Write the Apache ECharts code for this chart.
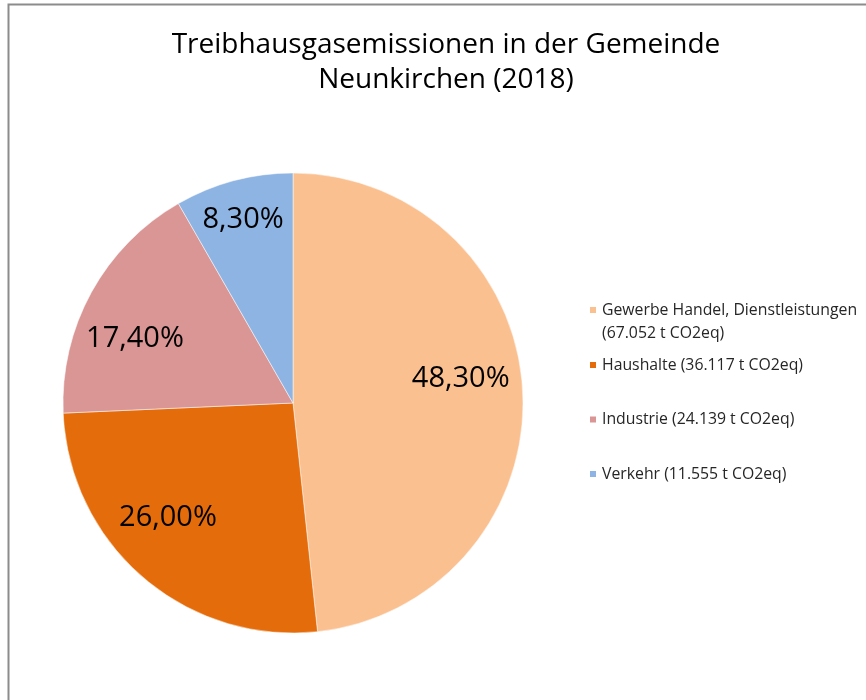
<!DOCTYPE html>
<html>
<head>
<meta charset="utf-8">
<script src="https://cdn.jsdelivr.net/npm/echarts@6/dist/echarts.min.js"></script>
<style>
  html, body { margin: 0; padding: 0; background: #fff; }
  #chart { width: 866px; height: 700px; }
</style>
</head>
<body>
<div id="chart"></div>
<script>
// Daten
var categories = [
  'Gewerbe Handel, Dienstleistungen\n(67.052 t CO2eq)',
  'Haushalte (36.117 t CO2eq)',
  'Industrie (24.139 t CO2eq)',
  'Verkehr (11.555 t CO2eq)'
];
var shares = [48.30, 26.00, 17.40, 8.30];
var colors = ['#FAC090', '#E46C0A', '#D99694', '#8EB4E3'];
// kleine Verschiebung der Beschriftungen (wie Excel "beste Anpassung")
var labelShift = [[-10, -15], [-9, -20], [-2, 21], [-4, -11]];

var fontFam = '"Open Sans", "Noto Sans", sans-serif';

var legendText = {
  fontFamily: fontFam,
  fontSize: 15.8,
  color: '#262626',
  lineHeight: 23
};

var chart = echarts.init(document.getElementById('chart'));
chart.setOption({
  backgroundColor: '#fff',
  animation: false,
  title: {
    text: 'Treibhausgasemissionen in der Gemeinde\nNeunkirchen (2018)',
    left: 441,
    top: 23,
    textAlign: 'center',
    textStyle: {
      fontFamily: fontFam,
      fontSize: 28,
      fontWeight: 'normal',
      color: '#000',
      lineHeight: 35
    }
  },
  legend: [
    {
      // erster Eintrag (zweizeilig), Symbol an der ersten Zeile
      orient: 'vertical',
      left: 588,
      top: 275.5,
      padding: 0,
      itemWidth: 8,
      itemHeight: 8,
      icon: 'rect',
      textStyle: legendText,
      formatter: function (name) { return '\n' + name; },
      data: categories.slice(0, 1)
    },
    {
      orient: 'vertical',
      left: 588,
      top: 353.5,
      padding: 0,
      itemWidth: 8,
      itemHeight: 8,
      itemGap: 31.5,
      icon: 'rect',
      textStyle: legendText,
      data: categories.slice(1)
    }
  ],
  graphic: [{
    type: 'rect',
    shape: { x: 8.5, y: 4.5, width: 1000, height: 1000 },
    style: { fill: 'none', stroke: '#8c8c8c', lineWidth: 2 },
    silent: true
  }],
  series: [
    {
      type: 'pie',
      center: [293, 403],
      radius: [0, 230],
      startAngle: 90,
      clockwise: true,
      label: { show: false },
      labelLine: { show: false },
      itemStyle: { borderColor: '#fff', borderWidth: 0.5 },
      data: categories.map(function (name, i) {
        return { name: name, value: shares[i], itemStyle: { color: colors[i] } };
      })
    },
    {
      // transparente Ebene nur für die Beschriftung
      type: 'pie',
      center: [293, 403],
      radius: [120, 230],
      startAngle: 90,
      clockwise: true,
      silent: true,
      legendHoverLink: false,
      itemStyle: { color: 'rgba(0,0,0,0)' },
      label: {
        show: true,
        position: 'inside',
        fontFamily: fontFam,
        fontSize: 29,
        color: '#000',
        formatter: function (p) {
          return shares[p.dataIndex].toFixed(2).replace('.', ',') + '%';
        }
      },
      labelLine: { show: false },
      data: categories.map(function (name, i) {
        return { name: name + ' ', value: shares[i], label: { offset: labelShift[i] } };
      })
    }
  ]
});
window.addEventListener('resize', function () { chart.resize(); });
</script>
</body>
</html>
